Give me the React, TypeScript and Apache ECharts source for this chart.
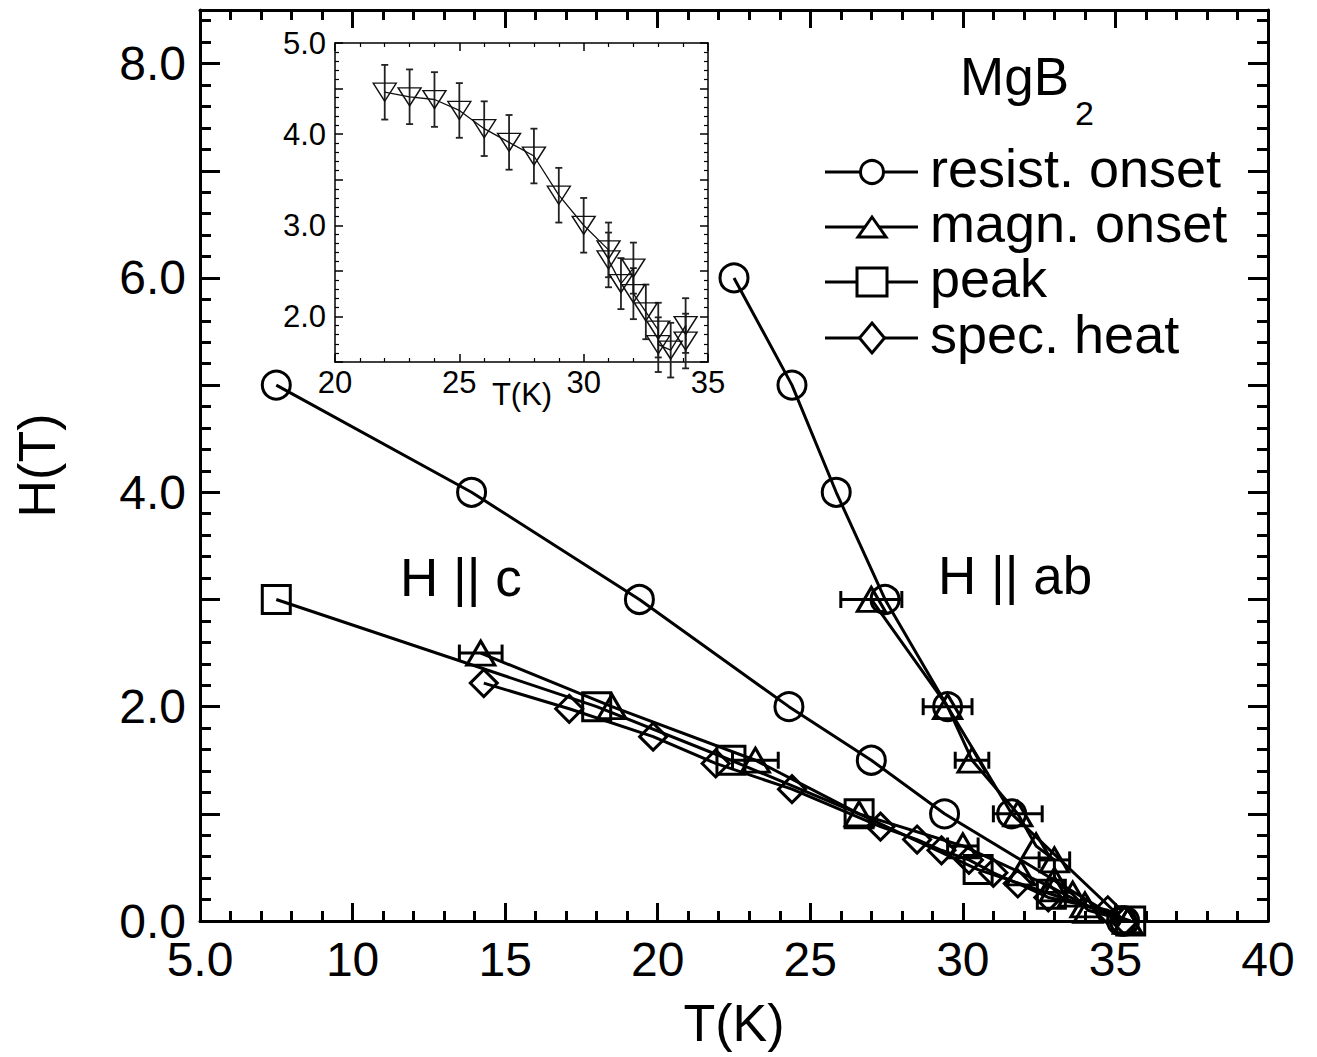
import React, { useEffect, useRef } from 'react';
import * as echarts from 'echarts';

const FONT = '"Liberation Sans", Arial, Helvetica, sans-serif';

// ---------- main plot data: T (K), H (T) ----------
const resistC_T = [7.5, 13.9, 19.4, 24.3, 27.0, 29.4, 35.2];
const resistC_H = [5.0, 4.0, 3.0, 2.0, 1.5, 1.0, 0.0];

const resistAb_T = [22.5, 24.4, 25.85, 27.45, 29.5, 31.6, 35.3];
const resistAb_H = [6.0, 5.0, 4.0, 3.0, 2.0, 1.0, 0.0];

const magnC_T = [14.2, 18.5, 23.2, 26.6, 30.0, 31.9, 33.0, 34.0, 35.4];
const magnC_H = [2.5, 2.0, 1.5, 1.0, 0.7, 0.45, 0.3, 0.15, 0.0];
const magnC_dT = [0.7, 0, 0.75, 0, 0.5, 0, 0, 0, 0];

const magnAb_T = [27.0, 29.5, 30.3, 31.8, 32.4, 33.0, 33.0, 33.6, 34.1, 35.4];
const magnAb_H = [3.0, 2.0, 1.5, 1.0, 0.7, 0.57, 0.38, 0.25, 0.1, 0.0];
const magnAb_dT = [1.0, 0.8, 0.55, 0.8, 0, 0.5, 0, 0, 0, 0];

const peakC_T = [7.5, 18.0, 22.4, 26.6, 30.5, 32.9, 35.5];
const peakC_H = [3.0, 2.0, 1.5, 1.0, 0.48, 0.25, 0.0];

const specC_T = [14.3, 17.1, 19.85, 21.9, 24.4, 27.3, 28.5, 29.3, 30.2, 31.0, 31.8, 32.8, 34.75, 35.3];
const specC_H = [2.22, 1.98, 1.72, 1.47, 1.23, 0.88, 0.76, 0.66, 0.57, 0.45, 0.35, 0.22, 0.1, 0.0];

// ---------- inset data ----------
const inset_T = [22, 23, 24, 25, 26, 27, 28, 29, 30, 31, 31, 31.5, 32, 32, 32.5, 33, 33, 33.5, 34.1, 34.1];
const inset_H = [4.46, 4.41, 4.38, 4.26, 4.06, 3.91, 3.76, 3.33, 3.0, 2.73, 2.62, 2.36, 2.53, 2.25, 2.05, 1.85, 1.69, 1.63, 1.9, 1.73];
const inset_dH = [0.3, 0.3, 0.3, 0.3, 0.3, 0.3, 0.3, 0.3, 0.3, 0.3, 0.3, 0.28, 0.28, 0.28, 0.3, 0.3, 0.3, 0.3, 0.3, 0.3];

// ---------- tick labels / texts ----------
const legendNames = ['resist. onset', 'magn. onset', 'peak', 'spec. heat'];
const xLabelMain = (v: number) => (v === 5 ? '5.0' : String(v));
const yLabelMain = (v: number) => (Math.abs(v % 2) < 1e-9 ? v.toFixed(1) : '');
const yLabelInset = (v: number) => (Math.abs(v - Math.round(v)) < 1e-9 ? v.toFixed(1) : '');

const pairs = (xs: number[], ys: number[]) => xs.map((x, i) => [x, ys[i]]);
const triples = (xs: number[], ys: number[], es: number[]) => xs.map((x, i) => [x, ys[i], es[i]]);

const BLACK = '#000';

function xErr(capH: number, lw: number) {
  return (params: any, api: any) => {
    const x = api.value(0), y = api.value(1), e = api.value(2);
    if (!e) return null;
    const a = api.coord([x - e, y]);
    const b = api.coord([x + e, y]);
    const style = { stroke: BLACK, lineWidth: lw, fill: null };
    return {
      type: 'group',
      children: [
        { type: 'line', shape: { x1: a[0], y1: a[1], x2: b[0], y2: b[1] }, style },
        { type: 'line', shape: { x1: a[0], y1: a[1] - capH / 2, x2: a[0], y2: a[1] + capH / 2 }, style },
        { type: 'line', shape: { x1: b[0], y1: b[1] - capH / 2, x2: b[0], y2: b[1] + capH / 2 }, style },
      ],
    };
  };
}

function yErr(capW: number, lw: number) {
  return (params: any, api: any) => {
    const x = api.value(0), y = api.value(1), e = api.value(2);
    if (!e) return null;
    const a = api.coord([x, y - e]);
    const b = api.coord([x, y + e]);
    const style = { stroke: '#222', lineWidth: lw, fill: null };
    return {
      type: 'group',
      children: [
        { type: 'line', shape: { x1: a[0], y1: a[1], x2: b[0], y2: b[1] }, style },
        { type: 'line', shape: { x1: a[0] - capW / 2, y1: a[1], x2: a[0] + capW / 2, y2: a[1] }, style },
        { type: 'line', shape: { x1: b[0] - capW / 2, y1: b[1], x2: b[0] + capW / 2, y2: b[1] }, style },
      ],
    };
  };
}

function mainLine(name: string, data: number[][], symbol: string, size: any) {
  return {
    name,
    type: 'line',
    xAxisIndex: 0,
    yAxisIndex: 0,
    data,
    symbol,
    symbolSize: size,
    showSymbol: true,
    showAllSymbol: true,
    lineStyle: { color: BLACK, width: 3 },
    itemStyle: { color: 'rgba(0,0,0,0)', borderColor: BLACK, borderWidth: 3 },
    emphasis: { disabled: true },
    z: 3,
  };
}

function axisBase(o: any) {
  const lw = o.lw;
  return {
    type: 'value',
    gridIndex: o.grid,
    position: o.pos,
    min: o.min,
    max: o.max,
    interval: o.interval,
    axisLine: { show: o.line !== false, onZero: false, lineStyle: { color: BLACK, width: lw } },
    axisTick: { show: true, inside: true, length: o.tick, lineStyle: { color: BLACK, width: lw } },
    minorTick: {
      show: !!o.minor,
      splitNumber: o.minor || 5,
      length: o.minorLen || 0,
      lineStyle: { color: BLACK, width: o.minorW || lw },
    },
    splitLine: { show: false },
    minorSplitLine: { show: false },
    axisLabel: o.label
      ? { show: true, margin: o.margin, fontSize: o.fontSize, color: BLACK, fontFamily: FONT, formatter: o.label, showMinLabel: true, showMaxLabel: true }
      : { show: false },
    name: o.name || '',
    nameLocation: 'middle',
    nameGap: o.nameGap || 0,
    nameTextStyle: { fontSize: o.nameSize || 52, color: BLACK, fontFamily: FONT },
    silent: true,
  };
}

export default function App() {
  const ref = useRef<HTMLDivElement>(null);

  useEffect(() => {
    if (!ref.current) return;
    const chart = echarts.init(ref.current, null, { renderer: 'svg' });

    const lx1 = 825, lx2 = 918, lcx = 872;
    const legendY = [172, 227, 282, 338];
    const legendGraphics: any[] = [];
    legendNames.forEach((n, i) => {
      const y = legendY[i];
      legendGraphics.push({ type: 'line', shape: { x1: lx1, y1: y, x2: lx2, y2: y }, style: { stroke: BLACK, lineWidth: 3 } });
      const ms = { stroke: BLACK, lineWidth: 3, fill: '#fff' };
      if (i === 0) legendGraphics.push({ type: 'circle', shape: { cx: lcx, cy: y, r: 11.5 }, style: ms });
      if (i === 1) legendGraphics.push({ type: 'polygon', shape: { points: [[lcx - 14, y + 10], [lcx + 14, y + 10], [lcx, y - 10]] }, style: ms });
      if (i === 2) legendGraphics.push({ type: 'rect', shape: { x: lcx - 15, y: y - 14, width: 30, height: 28 }, style: ms });
      if (i === 3) legendGraphics.push({ type: 'polygon', shape: { points: [[lcx, y - 15], [lcx + 12.5, y], [lcx, y + 15], [lcx - 12.5, y]] }, style: ms });
      legendGraphics.push({
        type: 'text', x: 930, y: y - 4,
        style: { text: n, fontSize: 54, fontFamily: FONT, fill: BLACK, verticalAlign: 'middle', align: 'left' },
      });
    });

    const option: any = {
      animation: false,
      backgroundColor: '#fff',
      grid: [
        { left: 200, top: 10, width: 1068, height: 911, containLabel: false },
        { left: 335, top: 43, width: 373, height: 319, containLabel: false },
      ],
      xAxis: [
        axisBase({ grid: 0, pos: 'bottom', min: 5, max: 40, interval: 5, lw: 3, tick: 18, minor: 5, minorLen: 10,
          label: xLabelMain, margin: 14, fontSize: 48, name: 'T(K)', nameGap: 76, nameSize: 52 }),
        axisBase({ grid: 0, pos: 'top', min: 5, max: 40, interval: 5, lw: 3, tick: 18, minor: 5, minorLen: 10 }),
        axisBase({ grid: 1, pos: 'bottom', min: 20, max: 35, interval: 5, lw: 1.5, tick: 8, minor: 5, minorLen: 4, minorW: 1.2,
          label: (v: number) => String(v), margin: 5, fontSize: 31 }),
        axisBase({ grid: 1, pos: 'top', min: 20, max: 35, interval: 5, lw: 1.5, tick: 8, minor: 5, minorLen: 4, minorW: 1.2 }),
      ],
      yAxis: [
        axisBase({ grid: 0, pos: 'left', min: 0, max: 8.5, interval: 1, lw: 3, tick: 20,
          label: yLabelMain, margin: 14, fontSize: 48, name: 'H(T)', nameGap: 137, nameSize: 52 }),
        axisBase({ grid: 0, pos: 'right', min: 0, max: 8.5, interval: 1, lw: 3, tick: 20 }),
        axisBase({ grid: 0, pos: 'left', min: 0, max: 8.5, interval: 0.2, lw: 3, tick: 11, line: false }),
        axisBase({ grid: 0, pos: 'right', min: 0, max: 8.5, interval: 0.2, lw: 3, tick: 11, line: false }),
        axisBase({ grid: 1, pos: 'left', min: 1.5, max: 5, interval: 0.5, lw: 1.5, tick: 8, minor: 5, minorLen: 4, minorW: 1.2,
          label: yLabelInset, margin: 9, fontSize: 31 }),
        axisBase({ grid: 1, pos: 'right', min: 1.5, max: 5, interval: 0.5, lw: 1.5, tick: 8, minor: 5, minorLen: 4, minorW: 1.2 }),
      ],
      series: [
        mainLine('resist. onset H||c', pairs(resistC_T, resistC_H), 'circle', 28),
        mainLine('resist. onset H||ab', pairs(resistAb_T, resistAb_H), 'circle', 28),
        mainLine('peak H||c', pairs(peakC_T, peakC_H), 'rect', 28),
        mainLine('spec. heat H||c', pairs(specC_T, specC_H), 'diamond', 27),
        mainLine('magn. onset H||c', pairs(magnC_T, magnC_H), 'triangle', [28, 24]),
        mainLine('magn. onset H||ab', pairs(magnAb_T, magnAb_H), 'triangle', [28, 24]),
        {
          type: 'custom', name: 'magnC err', xAxisIndex: 0, yAxisIndex: 0,
          data: triples(magnC_T, magnC_H, magnC_dT), renderItem: xErr(17, 3), encode: { x: 0, y: 1 }, z: 4, silent: true,
        },
        {
          type: 'custom', name: 'magnAb err', xAxisIndex: 0, yAxisIndex: 0,
          data: triples(magnAb_T, magnAb_H, magnAb_dT), renderItem: xErr(17, 3), encode: { x: 0, y: 1 }, z: 4, silent: true,
        },
        {
          type: 'custom', name: 'inset err', xAxisIndex: 2, yAxisIndex: 4,
          data: triples(inset_T, inset_H, inset_dH), renderItem: yErr(7, 1.8), encode: { x: 0, y: 1 }, z: 3, silent: true,
        },
        {
          name: 'inset', type: 'line', xAxisIndex: 2, yAxisIndex: 4,
          data: pairs(inset_T, inset_H),
          symbol: 'triangle', symbolRotate: 180, symbolSize: [23, 18],
          showSymbol: true, showAllSymbol: true,
          lineStyle: { color: '#111', width: 1.3 },
          itemStyle: { color: 'rgba(0,0,0,0)', borderColor: '#111', borderWidth: 1.4 },
          emphasis: { disabled: true },
          z: 4,
        },
      ],
      graphic: [
        ...legendGraphics,
        { type: 'text', x: 960, y: 76, style: { text: 'MgB', fontSize: 53, fontFamily: FONT, fill: BLACK, verticalAlign: 'middle' } },
        { type: 'text', x: 1075, y: 113, style: { text: '2', fontSize: 34, fontFamily: FONT, fill: BLACK, verticalAlign: 'middle' } },
        { type: 'text', x: 400, y: 577, style: { text: 'H || c', fontSize: 53, fontFamily: FONT, fill: BLACK, verticalAlign: 'middle' } },
        { type: 'text', x: 938, y: 575, style: { text: 'H || ab', fontSize: 53, fontFamily: FONT, fill: BLACK, verticalAlign: 'middle' } },
        { type: 'text', x: 522, y: 394, style: { text: 'T(K)', fontSize: 31, fontFamily: FONT, fill: BLACK, align: 'center', verticalAlign: 'middle' } },
      ],
    };

    chart.setOption(option);
    return () => chart.dispose();
  }, []);

  return (
    <div
      ref={ref}
      style={{ position: 'fixed', left: 0, top: 0, width: 1317, height: 1057, background: '#fff' }}
    />
  );
}
